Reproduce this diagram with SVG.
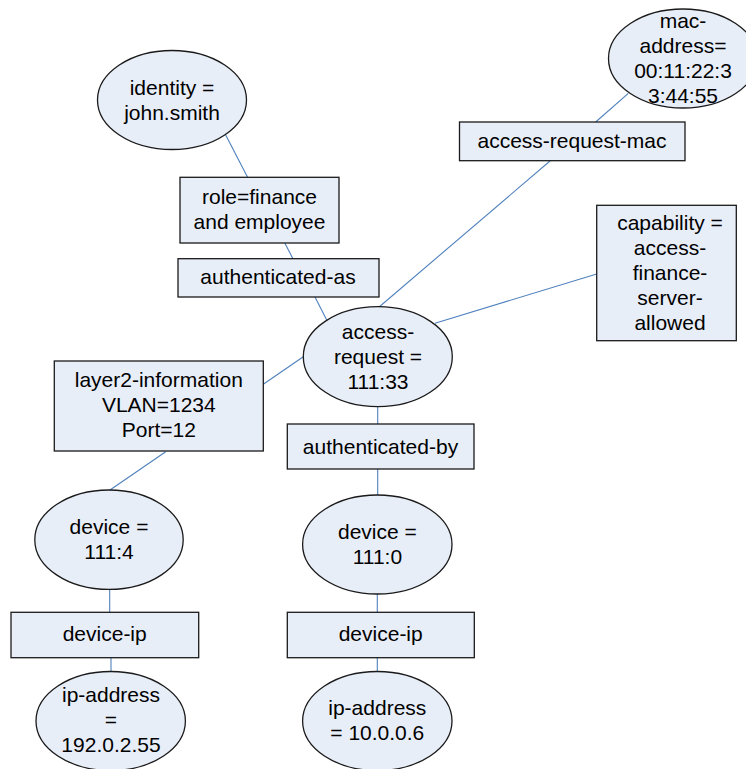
<svg xmlns="http://www.w3.org/2000/svg" width="746" height="769" viewBox="0 0 746 769">
<style>
.n{fill:#e8eef8;stroke:#1a1a1a;stroke-width:1.3}
.c line{stroke:#4f81bd;stroke-width:1.1}
text{font-family:"Liberation Sans",Arial,sans-serif;font-size:21px;fill:#000;text-anchor:middle}
</style>
<rect width="746" height="769" fill="#fff"/>
<g id="connectors" class="c">
<line x1="225.7" y1="135" x2="247.6" y2="177.3"/>
<line x1="284.8" y1="243" x2="292.9" y2="258.7"/>
<line x1="315" y1="297" x2="326.7" y2="320"/>
<line x1="628.3" y1="93.3" x2="595.7" y2="122"/>
<line x1="550" y1="161" x2="378.5" y2="307.5"/>
<line x1="596.7" y1="274" x2="435" y2="323.3"/>
<line x1="263.3" y1="384.3" x2="303.3" y2="356.7"/>
<line x1="165.7" y1="451.7" x2="110" y2="490"/>
<line x1="377.7" y1="406.7" x2="377.7" y2="424"/>
<line x1="377.7" y1="469" x2="377.7" y2="495"/>
<line x1="109.7" y1="589.3" x2="109.7" y2="612.3"/>
<line x1="111" y1="657.7" x2="111" y2="671.7"/>
<line x1="377.3" y1="594" x2="377.3" y2="612.3"/>
<line x1="377.3" y1="657.7" x2="377.3" y2="671.7"/>
</g>
<g id="identity">
<ellipse class="n" cx="172" cy="100" rx="74.5" ry="49.5"/>
<text x="172" y="94.5">identity =</text>
<text x="172" y="119.5">john.smith</text>
</g>
<g id="role">
<rect class="n" x="180" y="177.3" width="159" height="65.7"/>
<text x="259.5" y="204">role=finance</text>
<text x="259.5" y="229">and employee</text>
</g>
<g id="authenticated-as">
<rect class="n" x="178" y="258.7" width="201" height="38.3"/>
<text x="278" y="284">authenticated-as</text>
</g>
<g id="mac-address">
<ellipse class="n" cx="683" cy="58.5" rx="74.5" ry="49.5"/>
<text x="683" y="27.5">mac-</text>
<text x="683" y="52.5">address=</text>
<text x="683" y="77.5">00:11:22:3</text>
<text x="683" y="102.5">3:44:55</text>
</g>
<g id="access-request-mac">
<rect class="n" x="459.5" y="122" width="225.5" height="38.7"/>
<text x="572" y="148">access-request-mac</text>
</g>
<g id="capability">
<rect class="n" x="596.7" y="205.3" width="139.6" height="135.4"/>
<text x="670" y="230">capability =</text>
<text x="670" y="255">access-</text>
<text x="670" y="280">finance-</text>
<text x="670" y="305">server-</text>
<text x="670" y="330">allowed</text>
</g>
<g id="access-request">
<ellipse class="n" cx="377.8" cy="356.7" rx="74.5" ry="50"/>
<text x="378" y="338.5">access-</text>
<text x="378" y="363.5">request =</text>
<text x="378" y="388.5">111:33</text>
</g>
<g id="layer2-information">
<rect class="n" x="54.3" y="361" width="209" height="90"/>
<text x="158.8" y="387">layer2-information</text>
<text x="158.8" y="412">VLAN=1234</text>
<text x="158.8" y="437">Port=12</text>
</g>
<g id="authenticated-by">
<rect class="n" x="287.3" y="424" width="186.7" height="45"/>
<text x="380.5" y="453.5">authenticated-by</text>
</g>
<g id="device-111-4">
<ellipse class="n" cx="109" cy="539.7" rx="74.2" ry="49.7"/>
<text x="109" y="534">device =</text>
<text x="109" y="559">111:4</text>
</g>
<g id="device-111-0">
<ellipse class="n" cx="377.3" cy="544.5" rx="74.7" ry="49.5"/>
<text x="377.4" y="539">device =</text>
<text x="377.4" y="564">111:0</text>
</g>
<g id="device-ip-left">
<rect class="n" x="11" y="612.3" width="187.7" height="45.4"/>
<text x="104.7" y="641">device-ip</text>
</g>
<g id="device-ip-right">
<rect class="n" x="287.3" y="612.3" width="187" height="45.4"/>
<text x="380.7" y="641">device-ip</text>
</g>
<g id="ip-address-left">
<ellipse class="n" cx="110.7" cy="721" rx="74.7" ry="49.5"/>
<text x="111" y="702">ip-address</text>
<text x="111" y="727">=</text>
<text x="111" y="752">192.0.2.55</text>
</g>
<g id="ip-address-right">
<ellipse class="n" cx="377.3" cy="721" rx="74.7" ry="49.5"/>
<text x="377.3" y="714.5">ip-address</text>
<text x="377.3" y="739.5">= 10.0.0.6</text>
</g>
</svg>
